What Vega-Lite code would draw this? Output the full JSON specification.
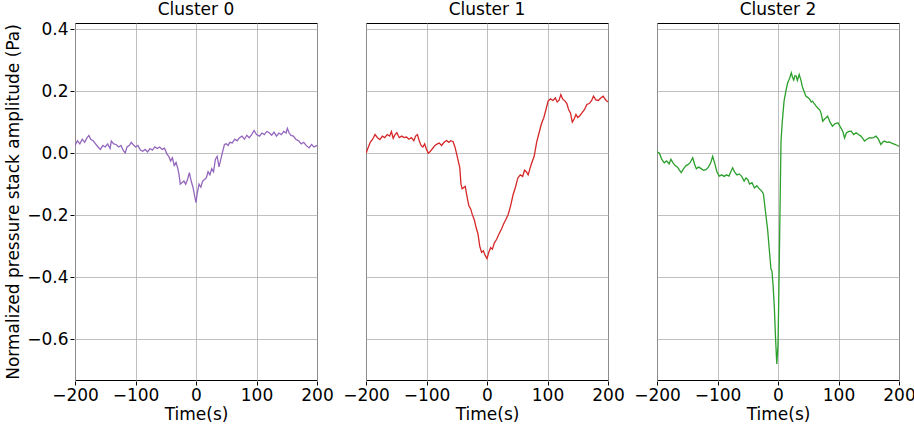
{
  "$schema": "https://vega.github.io/schema/vega-lite/v6.json",
  "padding": {"left": 4, "top": 1, "right": 2, "bottom": 1},
  "config": {
    "font": "DejaVu Sans",
    "view": {"stroke": "black", "strokeWidth": 1},
    "axis": {"labelFontSize": 17, "titleFontSize": 17, "titleFontWeight": "normal", "labelColor": "black", "titleColor": "black", "tickColor": "black", "domain": false, "gridColor": "#b0b0b0", "gridWidth": 0.8, "tickSize": 4, "labelPadding": 2, "labelOverlap": false, "labelFlush": false, "labelBound": false},
    "header": {"labelFontSize": 17, "labelColor": "black", "labelPadding": 3}
  },
  "data": {"values": [
    {"c":"Cluster 0","t":-200,"v":0.025},{"c":"Cluster 0","t":-196,"v":0.04},{"c":"Cluster 0","t":-192,"v":0.03},{"c":"Cluster 0","t":-188,"v":0.045},{"c":"Cluster 0","t":-184,"v":0.035},{"c":"Cluster 0","t":-180,"v":0.05},{"c":"Cluster 0","t":-177,"v":0.057},{"c":"Cluster 0","t":-174,"v":0.045},{"c":"Cluster 0","t":-170,"v":0.04},{"c":"Cluster 0","t":-166,"v":0.03},{"c":"Cluster 0","t":-162,"v":0.02},{"c":"Cluster 0","t":-158,"v":0.012},{"c":"Cluster 0","t":-154,"v":0.025},{"c":"Cluster 0","t":-150,"v":0.02},{"c":"Cluster 0","t":-146,"v":0.03},{"c":"Cluster 0","t":-142,"v":0.015},{"c":"Cluster 0","t":-140,"v":0.039},{"c":"Cluster 0","t":-136,"v":0.03},{"c":"Cluster 0","t":-132,"v":0.028},{"c":"Cluster 0","t":-128,"v":0.02},{"c":"Cluster 0","t":-124,"v":0.025},{"c":"Cluster 0","t":-120,"v":0.008},{"c":"Cluster 0","t":-117,"v":0.001},{"c":"Cluster 0","t":-114,"v":0.02},{"c":"Cluster 0","t":-110,"v":0.025},{"c":"Cluster 0","t":-107,"v":0.035},{"c":"Cluster 0","t":-104,"v":0.028},{"c":"Cluster 0","t":-100,"v":0.02},{"c":"Cluster 0","t":-96,"v":0.025},{"c":"Cluster 0","t":-92,"v":0.01},{"c":"Cluster 0","t":-88,"v":0.006},{"c":"Cluster 0","t":-84,"v":0.012},{"c":"Cluster 0","t":-80,"v":0.004},{"c":"Cluster 0","t":-76,"v":0.015},{"c":"Cluster 0","t":-72,"v":0.01},{"c":"Cluster 0","t":-68,"v":0.02},{"c":"Cluster 0","t":-64,"v":0.015},{"c":"Cluster 0","t":-60,"v":0.02},{"c":"Cluster 0","t":-56,"v":0.012},{"c":"Cluster 0","t":-52,"v":0.016},{"c":"Cluster 0","t":-48,"v":-0.003},{"c":"Cluster 0","t":-45,"v":-0.01},{"c":"Cluster 0","t":-42,"v":-0.025},{"c":"Cluster 0","t":-39,"v":-0.015},{"c":"Cluster 0","t":-36,"v":-0.04},{"c":"Cluster 0","t":-33,"v":-0.03},{"c":"Cluster 0","t":-30,"v":-0.05},{"c":"Cluster 0","t":-28,"v":-0.07},{"c":"Cluster 0","t":-26,"v":-0.1},{"c":"Cluster 0","t":-23,"v":-0.095},{"c":"Cluster 0","t":-20,"v":-0.09},{"c":"Cluster 0","t":-17,"v":-0.1},{"c":"Cluster 0","t":-14,"v":-0.085},{"c":"Cluster 0","t":-11,"v":-0.063},{"c":"Cluster 0","t":-8,"v":-0.09},{"c":"Cluster 0","t":-5,"v":-0.11},{"c":"Cluster 0","t":-2,"v":-0.14},{"c":"Cluster 0","t":0,"v":-0.16},{"c":"Cluster 0","t":2,"v":-0.13},{"c":"Cluster 0","t":5,"v":-0.1},{"c":"Cluster 0","t":8,"v":-0.11},{"c":"Cluster 0","t":11,"v":-0.09},{"c":"Cluster 0","t":14,"v":-0.085},{"c":"Cluster 0","t":17,"v":-0.08},{"c":"Cluster 0","t":20,"v":-0.06},{"c":"Cluster 0","t":23,"v":-0.07},{"c":"Cluster 0","t":26,"v":-0.05},{"c":"Cluster 0","t":29,"v":-0.06},{"c":"Cluster 0","t":32,"v":-0.02},{"c":"Cluster 0","t":35,"v":-0.01},{"c":"Cluster 0","t":38,"v":-0.044},{"c":"Cluster 0","t":41,"v":-0.02},{"c":"Cluster 0","t":44,"v":0.005},{"c":"Cluster 0","t":47,"v":0.028},{"c":"Cluster 0","t":50,"v":0.03},{"c":"Cluster 0","t":53,"v":0.025},{"c":"Cluster 0","t":56,"v":0.035},{"c":"Cluster 0","t":60,"v":0.033},{"c":"Cluster 0","t":64,"v":0.045},{"c":"Cluster 0","t":68,"v":0.04},{"c":"Cluster 0","t":72,"v":0.05},{"c":"Cluster 0","t":76,"v":0.055},{"c":"Cluster 0","t":80,"v":0.045},{"c":"Cluster 0","t":84,"v":0.058},{"c":"Cluster 0","t":88,"v":0.05},{"c":"Cluster 0","t":92,"v":0.06},{"c":"Cluster 0","t":96,"v":0.073},{"c":"Cluster 0","t":100,"v":0.06},{"c":"Cluster 0","t":105,"v":0.055},{"c":"Cluster 0","t":109,"v":0.065},{"c":"Cluster 0","t":113,"v":0.06},{"c":"Cluster 0","t":117,"v":0.07},{"c":"Cluster 0","t":121,"v":0.066},{"c":"Cluster 0","t":125,"v":0.058},{"c":"Cluster 0","t":129,"v":0.068},{"c":"Cluster 0","t":133,"v":0.055},{"c":"Cluster 0","t":137,"v":0.065},{"c":"Cluster 0","t":141,"v":0.06},{"c":"Cluster 0","t":145,"v":0.07},{"c":"Cluster 0","t":149,"v":0.065},{"c":"Cluster 0","t":151,"v":0.08},{"c":"Cluster 0","t":154,"v":0.065},{"c":"Cluster 0","t":157,"v":0.057},{"c":"Cluster 0","t":161,"v":0.055},{"c":"Cluster 0","t":165,"v":0.045},{"c":"Cluster 0","t":170,"v":0.039},{"c":"Cluster 0","t":174,"v":0.03},{"c":"Cluster 0","t":178,"v":0.035},{"c":"Cluster 0","t":182,"v":0.025},{"c":"Cluster 0","t":187,"v":0.017},{"c":"Cluster 0","t":191,"v":0.028},{"c":"Cluster 0","t":195,"v":0.02},{"c":"Cluster 0","t":200,"v":0.025},
    {"c":"Cluster 1","t":-200,"v":0.0},{"c":"Cluster 1","t":-197,"v":0.015},{"c":"Cluster 1","t":-193,"v":0.035},{"c":"Cluster 1","t":-189,"v":0.045},{"c":"Cluster 1","t":-185,"v":0.06},{"c":"Cluster 1","t":-181,"v":0.05},{"c":"Cluster 1","t":-177,"v":0.044},{"c":"Cluster 1","t":-173,"v":0.055},{"c":"Cluster 1","t":-169,"v":0.05},{"c":"Cluster 1","t":-165,"v":0.06},{"c":"Cluster 1","t":-161,"v":0.055},{"c":"Cluster 1","t":-158,"v":0.07},{"c":"Cluster 1","t":-155,"v":0.048},{"c":"Cluster 1","t":-152,"v":0.06},{"c":"Cluster 1","t":-149,"v":0.066},{"c":"Cluster 1","t":-145,"v":0.05},{"c":"Cluster 1","t":-141,"v":0.055},{"c":"Cluster 1","t":-137,"v":0.05},{"c":"Cluster 1","t":-133,"v":0.052},{"c":"Cluster 1","t":-129,"v":0.045},{"c":"Cluster 1","t":-125,"v":0.05},{"c":"Cluster 1","t":-121,"v":0.04},{"c":"Cluster 1","t":-118,"v":0.055},{"c":"Cluster 1","t":-115,"v":0.06},{"c":"Cluster 1","t":-112,"v":0.04},{"c":"Cluster 1","t":-109,"v":0.025},{"c":"Cluster 1","t":-106,"v":0.02},{"c":"Cluster 1","t":-103,"v":0.03},{"c":"Cluster 1","t":-100,"v":0.012},{"c":"Cluster 1","t":-97,"v":0.0},{"c":"Cluster 1","t":-94,"v":0.005},{"c":"Cluster 1","t":-90,"v":0.015},{"c":"Cluster 1","t":-86,"v":0.025},{"c":"Cluster 1","t":-82,"v":0.03},{"c":"Cluster 1","t":-79,"v":0.033},{"c":"Cluster 1","t":-75,"v":0.025},{"c":"Cluster 1","t":-71,"v":0.035},{"c":"Cluster 1","t":-67,"v":0.041},{"c":"Cluster 1","t":-63,"v":0.035},{"c":"Cluster 1","t":-60,"v":0.04},{"c":"Cluster 1","t":-56,"v":0.037},{"c":"Cluster 1","t":-53,"v":0.02},{"c":"Cluster 1","t":-50,"v":-0.004},{"c":"Cluster 1","t":-47,"v":-0.03},{"c":"Cluster 1","t":-45,"v":-0.047},{"c":"Cluster 1","t":-43,"v":-0.1},{"c":"Cluster 1","t":-41,"v":-0.115},{"c":"Cluster 1","t":-38,"v":-0.11},{"c":"Cluster 1","t":-36,"v":-0.107},{"c":"Cluster 1","t":-33,"v":-0.14},{"c":"Cluster 1","t":-30,"v":-0.17},{"c":"Cluster 1","t":-27,"v":-0.18},{"c":"Cluster 1","t":-24,"v":-0.2},{"c":"Cluster 1","t":-21,"v":-0.215},{"c":"Cluster 1","t":-18,"v":-0.24},{"c":"Cluster 1","t":-15,"v":-0.26},{"c":"Cluster 1","t":-12,"v":-0.3},{"c":"Cluster 1","t":-9,"v":-0.32},{"c":"Cluster 1","t":-6,"v":-0.315},{"c":"Cluster 1","t":-3,"v":-0.33},{"c":"Cluster 1","t":0,"v":-0.34},{"c":"Cluster 1","t":3,"v":-0.32},{"c":"Cluster 1","t":6,"v":-0.305},{"c":"Cluster 1","t":9,"v":-0.31},{"c":"Cluster 1","t":12,"v":-0.29},{"c":"Cluster 1","t":16,"v":-0.278},{"c":"Cluster 1","t":20,"v":-0.26},{"c":"Cluster 1","t":24,"v":-0.245},{"c":"Cluster 1","t":27,"v":-0.23},{"c":"Cluster 1","t":31,"v":-0.215},{"c":"Cluster 1","t":35,"v":-0.198},{"c":"Cluster 1","t":39,"v":-0.17},{"c":"Cluster 1","t":43,"v":-0.135},{"c":"Cluster 1","t":47,"v":-0.11},{"c":"Cluster 1","t":51,"v":-0.08},{"c":"Cluster 1","t":55,"v":-0.07},{"c":"Cluster 1","t":59,"v":-0.075},{"c":"Cluster 1","t":62,"v":-0.055},{"c":"Cluster 1","t":65,"v":-0.06},{"c":"Cluster 1","t":68,"v":-0.07},{"c":"Cluster 1","t":71,"v":-0.05},{"c":"Cluster 1","t":74,"v":-0.031},{"c":"Cluster 1","t":78,"v":-0.01},{"c":"Cluster 1","t":82,"v":0.035},{"c":"Cluster 1","t":86,"v":0.065},{"c":"Cluster 1","t":90,"v":0.095},{"c":"Cluster 1","t":94,"v":0.115},{"c":"Cluster 1","t":98,"v":0.145},{"c":"Cluster 1","t":101,"v":0.168},{"c":"Cluster 1","t":105,"v":0.175},{"c":"Cluster 1","t":109,"v":0.17},{"c":"Cluster 1","t":113,"v":0.178},{"c":"Cluster 1","t":116,"v":0.165},{"c":"Cluster 1","t":119,"v":0.17},{"c":"Cluster 1","t":122,"v":0.189},{"c":"Cluster 1","t":125,"v":0.175},{"c":"Cluster 1","t":129,"v":0.168},{"c":"Cluster 1","t":132,"v":0.16},{"c":"Cluster 1","t":135,"v":0.14},{"c":"Cluster 1","t":138,"v":0.13},{"c":"Cluster 1","t":141,"v":0.1},{"c":"Cluster 1","t":144,"v":0.11},{"c":"Cluster 1","t":147,"v":0.125},{"c":"Cluster 1","t":150,"v":0.115},{"c":"Cluster 1","t":153,"v":0.12},{"c":"Cluster 1","t":157,"v":0.13},{"c":"Cluster 1","t":161,"v":0.14},{"c":"Cluster 1","t":165,"v":0.157},{"c":"Cluster 1","t":169,"v":0.16},{"c":"Cluster 1","t":173,"v":0.17},{"c":"Cluster 1","t":176,"v":0.184},{"c":"Cluster 1","t":180,"v":0.172},{"c":"Cluster 1","t":184,"v":0.17},{"c":"Cluster 1","t":188,"v":0.178},{"c":"Cluster 1","t":192,"v":0.184},{"c":"Cluster 1","t":196,"v":0.172},{"c":"Cluster 1","t":200,"v":0.165},
    {"c":"Cluster 2","t":-200,"v":0.004},{"c":"Cluster 2","t":-196,"v":0.0},{"c":"Cluster 2","t":-192,"v":-0.02},{"c":"Cluster 2","t":-188,"v":-0.031},{"c":"Cluster 2","t":-184,"v":-0.025},{"c":"Cluster 2","t":-180,"v":-0.035},{"c":"Cluster 2","t":-177,"v":-0.02},{"c":"Cluster 2","t":-174,"v":-0.03},{"c":"Cluster 2","t":-170,"v":-0.04},{"c":"Cluster 2","t":-166,"v":-0.045},{"c":"Cluster 2","t":-163,"v":-0.055},{"c":"Cluster 2","t":-160,"v":-0.063},{"c":"Cluster 2","t":-156,"v":-0.05},{"c":"Cluster 2","t":-152,"v":-0.04},{"c":"Cluster 2","t":-149,"v":-0.037},{"c":"Cluster 2","t":-145,"v":-0.03},{"c":"Cluster 2","t":-141,"v":-0.015},{"c":"Cluster 2","t":-138,"v":-0.035},{"c":"Cluster 2","t":-135,"v":-0.05},{"c":"Cluster 2","t":-131,"v":-0.045},{"c":"Cluster 2","t":-127,"v":-0.05},{"c":"Cluster 2","t":-123,"v":-0.055},{"c":"Cluster 2","t":-119,"v":-0.053},{"c":"Cluster 2","t":-115,"v":-0.045},{"c":"Cluster 2","t":-111,"v":-0.03},{"c":"Cluster 2","t":-108,"v":-0.01},{"c":"Cluster 2","t":-105,"v":-0.03},{"c":"Cluster 2","t":-101,"v":-0.06},{"c":"Cluster 2","t":-97,"v":-0.074},{"c":"Cluster 2","t":-93,"v":-0.07},{"c":"Cluster 2","t":-89,"v":-0.075},{"c":"Cluster 2","t":-85,"v":-0.07},{"c":"Cluster 2","t":-81,"v":-0.074},{"c":"Cluster 2","t":-78,"v":-0.06},{"c":"Cluster 2","t":-75,"v":-0.047},{"c":"Cluster 2","t":-72,"v":-0.06},{"c":"Cluster 2","t":-68,"v":-0.07},{"c":"Cluster 2","t":-64,"v":-0.067},{"c":"Cluster 2","t":-60,"v":-0.075},{"c":"Cluster 2","t":-56,"v":-0.09},{"c":"Cluster 2","t":-53,"v":-0.08},{"c":"Cluster 2","t":-50,"v":-0.085},{"c":"Cluster 2","t":-47,"v":-0.1},{"c":"Cluster 2","t":-43,"v":-0.095},{"c":"Cluster 2","t":-39,"v":-0.112},{"c":"Cluster 2","t":-35,"v":-0.105},{"c":"Cluster 2","t":-31,"v":-0.115},{"c":"Cluster 2","t":-28,"v":-0.12},{"c":"Cluster 2","t":-25,"v":-0.128},{"c":"Cluster 2","t":-24,"v":-0.133},{"c":"Cluster 2","t":-20,"v":-0.2},{"c":"Cluster 2","t":-17,"v":-0.25},{"c":"Cluster 2","t":-14,"v":-0.32},{"c":"Cluster 2","t":-11.6,"v":-0.375},{"c":"Cluster 2","t":-10,"v":-0.38},{"c":"Cluster 2","t":-8,"v":-0.43},{"c":"Cluster 2","t":-6,"v":-0.5},{"c":"Cluster 2","t":-4,"v":-0.6},{"c":"Cluster 2","t":-2,"v":-0.68},{"c":"Cluster 2","t":0,"v":-0.62},{"c":"Cluster 2","t":1,"v":-0.5},{"c":"Cluster 2","t":2.5,"v":-0.3},{"c":"Cluster 2","t":4,"v":-0.09},{"c":"Cluster 2","t":5,"v":0.039},{"c":"Cluster 2","t":7,"v":0.1},{"c":"Cluster 2","t":10,"v":0.168},{"c":"Cluster 2","t":13,"v":0.2},{"c":"Cluster 2","t":16,"v":0.227},{"c":"Cluster 2","t":19,"v":0.24},{"c":"Cluster 2","t":22,"v":0.259},{"c":"Cluster 2","t":24,"v":0.245},{"c":"Cluster 2","t":26,"v":0.236},{"c":"Cluster 2","t":28,"v":0.25},{"c":"Cluster 2","t":30,"v":0.249},{"c":"Cluster 2","t":32,"v":0.235},{"c":"Cluster 2","t":35,"v":0.254},{"c":"Cluster 2","t":38,"v":0.235},{"c":"Cluster 2","t":40,"v":0.216},{"c":"Cluster 2","t":43,"v":0.2},{"c":"Cluster 2","t":46,"v":0.184},{"c":"Cluster 2","t":49,"v":0.18},{"c":"Cluster 2","t":52,"v":0.175},{"c":"Cluster 2","t":55,"v":0.165},{"c":"Cluster 2","t":57,"v":0.168},{"c":"Cluster 2","t":60,"v":0.16},{"c":"Cluster 2","t":63,"v":0.152},{"c":"Cluster 2","t":66,"v":0.145},{"c":"Cluster 2","t":69,"v":0.14},{"c":"Cluster 2","t":71,"v":0.13},{"c":"Cluster 2","t":74,"v":0.103},{"c":"Cluster 2","t":77,"v":0.11},{"c":"Cluster 2","t":80,"v":0.115},{"c":"Cluster 2","t":82,"v":0.119},{"c":"Cluster 2","t":86,"v":0.1},{"c":"Cluster 2","t":90,"v":0.087},{"c":"Cluster 2","t":94,"v":0.095},{"c":"Cluster 2","t":99,"v":0.098},{"c":"Cluster 2","t":103,"v":0.085},{"c":"Cluster 2","t":107,"v":0.071},{"c":"Cluster 2","t":110,"v":0.049},{"c":"Cluster 2","t":113,"v":0.065},{"c":"Cluster 2","t":117,"v":0.07},{"c":"Cluster 2","t":121,"v":0.071},{"c":"Cluster 2","t":125,"v":0.06},{"c":"Cluster 2","t":129,"v":0.066},{"c":"Cluster 2","t":133,"v":0.06},{"c":"Cluster 2","t":137,"v":0.055},{"c":"Cluster 2","t":140,"v":0.048},{"c":"Cluster 2","t":143,"v":0.039},{"c":"Cluster 2","t":147,"v":0.045},{"c":"Cluster 2","t":151,"v":0.05},{"c":"Cluster 2","t":154,"v":0.049},{"c":"Cluster 2","t":158,"v":0.05},{"c":"Cluster 2","t":162,"v":0.055},{"c":"Cluster 2","t":166,"v":0.045},{"c":"Cluster 2","t":170,"v":0.028},{"c":"Cluster 2","t":173,"v":0.035},{"c":"Cluster 2","t":176,"v":0.039},{"c":"Cluster 2","t":180,"v":0.035},{"c":"Cluster 2","t":184,"v":0.036},{"c":"Cluster 2","t":187,"v":0.033},{"c":"Cluster 2","t":191,"v":0.03},{"c":"Cluster 2","t":195,"v":0.027},{"c":"Cluster 2","t":199,"v":0.023},{"c":"Cluster 2","t":200,"v":0.022}
  ]},
  "facet": {"column": {"field": "c", "type": "nominal", "title": null, "header": {"labelFontSize": 17}}},
  "spacing": 47,
  "spec": {
    "width": 242,
    "height": 357,
    "mark": {"type": "line", "strokeWidth": 1.3, "clip": true},
    "encoding": {
      "x": {"field": "t", "type": "quantitative", "title": "Time(s)", "scale": {"domain": [-200, 200], "nice": false}, "axis": {"values": [-200, -100, 0, 100, 200], "format": "d", "titlePadding": 3}},
      "y": {"field": "v", "type": "quantitative", "title": "Normalized pressure stack amplitude (Pa)", "scale": {"domain": [-0.732, 0.42], "nice": false, "zero": false}, "axis": {"values": [-0.6, -0.4, -0.2, 0.0, 0.2, 0.4], "format": ".1f", "titlePadding": 4}},
      "color": {"field": "c", "type": "nominal", "legend": null, "scale": {"domain": ["Cluster 0", "Cluster 1", "Cluster 2"], "range": ["#9467bd", "#d62728", "#2ca02c"]}}
    }
  }
}
